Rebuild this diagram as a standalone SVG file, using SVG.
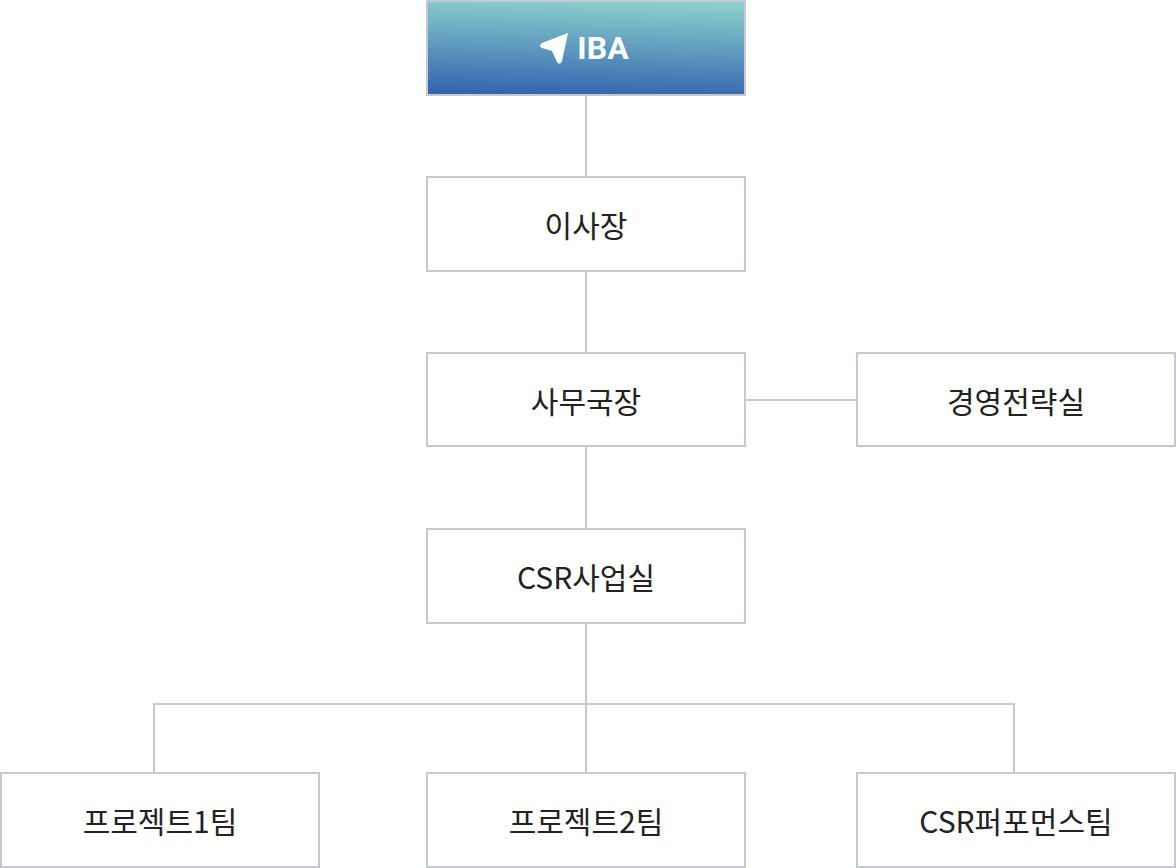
<svg xmlns="http://www.w3.org/2000/svg" width="1176" height="868" viewBox="0 0 1176 868">
<style>
.b{fill:#fff;stroke:#c8c8d0;stroke-width:2}
.t{font-family:"Noto Sans CJK KR","Noto Sans",sans-serif;font-size:30px;fill:#222;text-anchor:middle;dominant-baseline:central}
.c{fill:none;stroke:#c8c8d0;stroke-width:2}
</style>
<defs><linearGradient id="g" x1="0.55" y1="0" x2="0.45" y2="1"><stop offset="0" stop-color="#8ad0cc"/><stop offset="1" stop-color="#3565b0"/></linearGradient></defs>
<g id="connectors">
<path class="c" d="M586 95V177M586 271V353M745 400H857M586 446V529M586 623V773M154 773V704H1014V773"/>
</g>
<g id="iba"><rect x="427" y="1" width="318" height="94" fill="url(#g)" stroke="#c8c8d0" stroke-width="2"/>
<path d="M568 33 L542 43 Q538 46 542 48 L552 51 L557 62 Q560 66 562 61 Z" fill="#fff"/>
<text x="603" y="48" style="font-family:Roboto,'Liberation Sans',sans-serif;font-size:32px;font-weight:bold;fill:#fff;text-anchor:middle;dominant-baseline:central">IBA</text></g>
<g id="n1"><rect class="b" x="427" y="177" width="318" height="94"/><text class="t" x="586" y="224">이사장</text></g>
<g id="n2"><rect class="b" x="427" y="353" width="318" height="93"/><text class="t" x="586" y="400">사무국장</text></g>
<g id="n3"><rect class="b" x="857" y="353" width="318" height="93"/><text class="t" x="1016" y="400">경영전략실</text></g>
<g id="n4"><rect class="b" x="427" y="529" width="318" height="94"/><text class="t" x="586" y="576">CSR사업실</text></g>
<g id="n5"><rect class="b" x="1" y="773" width="318" height="94"/><text class="t" x="160" y="820">프로젝트1팀</text></g>
<g id="n6"><rect class="b" x="427" y="773" width="318" height="94"/><text class="t" x="586" y="820">프로젝트2팀</text></g>
<g id="n7"><rect class="b" x="857" y="773" width="318" height="94"/><text class="t" x="1016" y="820">CSR퍼포먼스팀</text></g>
</svg>
